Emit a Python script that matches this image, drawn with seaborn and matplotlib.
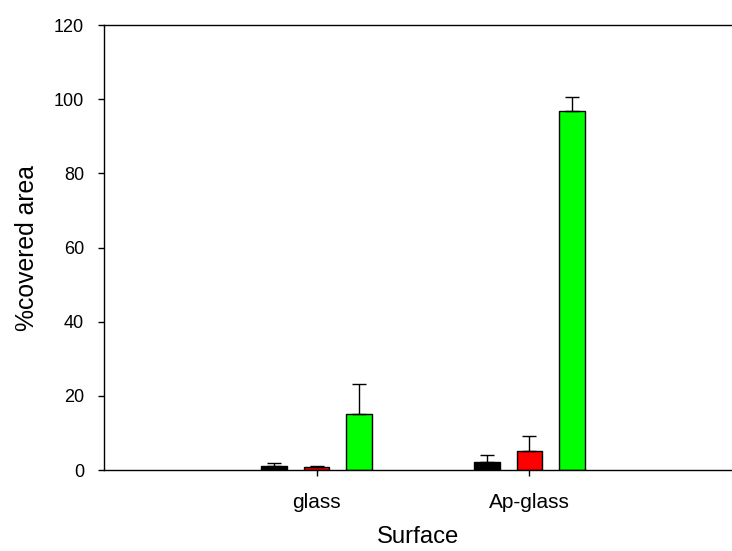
import pandas as pd
import matplotlib
matplotlib.use("Agg")
import matplotlib.pyplot as plt
import seaborn as sns
import numpy as np

# data
surfaces = ["glass", "Ap-glass"]
groups = ["A", "B", "C"]
values_A = [1.1, 2.2]
values_B = [0.9, 5.1]
values_C = [15.2, 96.7]
errors_A = [0.8, 1.8]
errors_B = [0.25, 4.1]
errors_C = [7.9, 4.0]
bar_colors = ["#000000", "#ff0000", "#00ff00"]

df = pd.DataFrame({
    "Surface": surfaces * 3,
    "group": [g for g in groups for _ in surfaces],
    "value": values_A + values_B + values_C,
    "err": errors_A + errors_B + errors_C,
})

sns.set_style("ticks")
plt.rcParams["font.family"] = ["Liberation Sans", "DejaVu Sans"]
plt.rcParams["text.color"] = "black"
plt.rcParams["axes.labelcolor"] = "black"
plt.rcParams["xtick.color"] = "black"
plt.rcParams["ytick.color"] = "black"

fig = plt.figure(figsize=(7.32, 5.51), dpi=100)
ax = fig.add_axes([0.142, 0.147, 0.858, 0.8076])

sns.barplot(data=df, x="Surface", y="value", hue="group", order=surfaces,
            hue_order=groups, palette=bar_colors, saturation=1, width=0.6,
            gap=0.4, errorbar=None, edgecolor="black", linewidth=1.0, ax=ax,
            legend=False)

# upper-only error bars at the bar centres
for cont, g in zip(ax.containers, groups):
    sub = df[df["group"] == g].set_index("Surface").loc[surfaces]
    xs = [p.get_x() + p.get_width() / 2 for p in cont.patches]
    ax.errorbar(xs, sub["value"], yerr=[np.zeros(len(xs)), sub["err"]],
                fmt="none", ecolor="black", elinewidth=1.0, capsize=4.7,
                capthick=1.0, zorder=1)

ax.set_xlim(-1.0, 1.953)
ax.set_ylim(0, 120)
ax.set_yticks(np.arange(0, 121, 20))
ax.set_xlabel("Surface", fontsize=17.2, labelpad=10)
ax.set_ylabel("%covered area", fontsize=17.8, labelpad=11)
ax.tick_params(axis="both", length=4.3, width=1.0, direction="out")
ax.tick_params(axis="x", labelsize=15, pad=12)
ax.tick_params(axis="y", labelsize=13, pad=10)
for side in ["left", "bottom", "top"]:
    ax.spines[side].set_linewidth(1.0)
    ax.spines[side].set_color("black")
ax.spines["right"].set_visible(False)

fig.savefig("out.png", dpi=100)
